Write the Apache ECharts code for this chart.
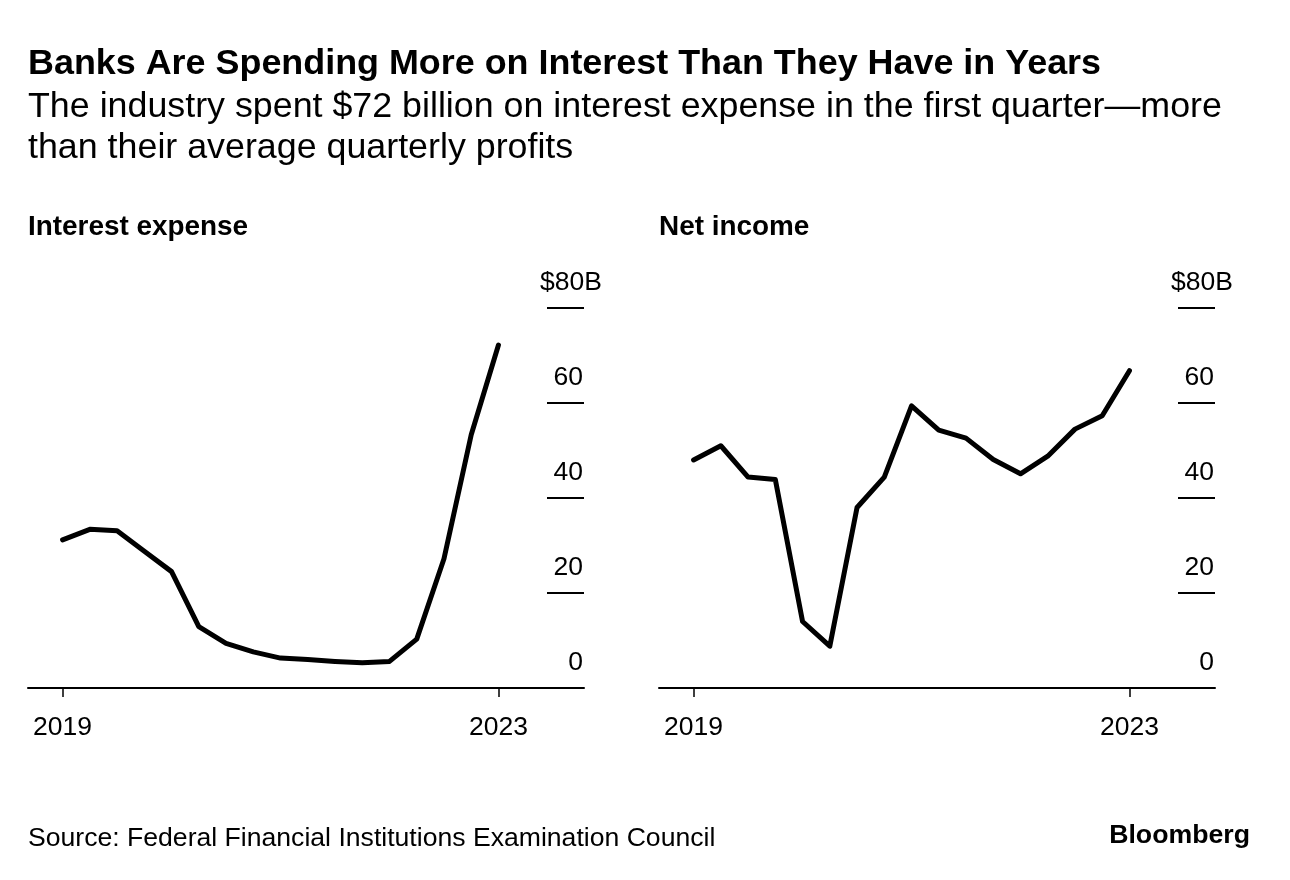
<!DOCTYPE html>
<html><head><meta charset="utf-8">
<script src="https://cdn.jsdelivr.net/npm/echarts@6/dist/echarts.min.js"></script>
<style>html,body{margin:0;padding:0;background:#fff}#c{width:1290px;height:880px}</style>
</head><body><div id="c"></div>
<script>
// Quarterly data, $ billions
const quarters = ['2019 Q1','2019 Q2','2019 Q3','2019 Q4','2020 Q1','2020 Q2','2020 Q3','2020 Q4',
  '2021 Q1','2021 Q2','2021 Q3','2021 Q4','2022 Q1','2022 Q2','2022 Q3','2022 Q4','2023 Q1'];
const interestExpense = [31.2, 33.4, 33.1, 28.8, 24.5, 12.9, 9.4, 7.6, 6.3, 6.0, 5.6, 5.3, 5.6, 10.3, 27.2, 53.3, 72.2];
const netIncome = [48.0, 51.0, 44.4, 43.9, 14.0, 8.8, 38.0, 44.4, 59.4, 54.3, 52.6, 48.1, 45.1, 48.8, 54.5, 57.3, 66.8];
const yTickValues = [0, 20, 40, 60, 80];
const yTickLines = [20, 40, 60, 80];
const xTickIndex = [0, 16];
const panelTitles = ['Interest expense', 'Net income'];
const mainTitle = 'Banks Are Spending More on Interest Than They Have in Years';
const subTitle = 'The industry spent $72 billion on interest expense in the first quarter\u2014more\nthan their average quarterly profits';
const sourceText = 'Source: Federal Financial Institutions Examination Council';
const brandText = 'Bloomberg';

const FONT = 'Liberation Sans';
const INK = '#000';
const AX_FS = 26.5;

function xAxisFor(gi) {
  return {
    type: 'value', gridIndex: gi, min: -1.27, max: 19.14,
    axisLine: { show: true, onZero: false, lineStyle: { color: INK, width: 2 } },
    axisTick: { show: true, customValues: xTickIndex, length: 9, lineStyle: { color: INK, width: 1.5 } },
    axisLabel: {
      show: true, customValues: xTickIndex, margin: 26,
      formatter: v => quarters[Math.round(v)].slice(0, 4),
      fontFamily: FONT, fontSize: AX_FS, color: INK
    },
    splitLine: { show: false }
  };
}
function yAxisFor(gi) {
  return {
    type: 'value', gridIndex: gi, position: 'right', min: 0, max: 80,
    axisLine: { show: false, onZero: false },
    axisTick: { show: true, inside: true, customValues: yTickLines, length: 37, lineStyle: { color: INK, width: 2 } },
    axisLabel: {
      show: true, inside: true, margin: 1, customValues: yTickValues,
      align: 'right', verticalAlign: 'bottom', padding: [0, 0, 12, 0],
      fontFamily: FONT, fontSize: AX_FS, color: INK, lineHeight: AX_FS,
      formatter: v => v === 80 ? '$80{u|B}' : String(v),
      rich: { u: { fontFamily: FONT, fontSize: AX_FS, color: INK, lineHeight: AX_FS, padding: [0, -19, 0, 0] } }
    },
    splitLine: { show: false }
  };
}
function seriesFor(gi, vals) {
  return {
    type: 'line', xAxisIndex: gi, yAxisIndex: gi,
    data: quarters.map((q, i) => [i, vals[i]]),
    showSymbol: false, silent: true,
    lineStyle: { color: INK, width: 5, cap: 'round', join: 'round' }
  };
}
function titleAt(text, pos, style) {
  return Object.assign({ text: text, padding: 0, textStyle: Object.assign({ fontFamily: FONT, color: INK }, style) }, pos);
}

const chart = echarts.init(document.getElementById('c'), null, { renderer: 'canvas' });
chart.setOption({
  animation: false,
  backgroundColor: '#fff',
  title: [
    titleAt(mainTitle, { left: 28, top: 46 }, { fontWeight: 'bold', fontSize: 35.9, lineHeight: 36 }),
    titleAt(subTitle, { left: 28, top: 86.5 }, { fontWeight: 'normal', fontSize: 35.8, lineHeight: 41 }),
    titleAt(panelTitles[0], { left: 28, top: 213 }, { fontWeight: 'bold', fontSize: 27.9, lineHeight: 28 }),
    titleAt(panelTitles[1], { left: 659, top: 213 }, { fontWeight: 'bold', fontSize: 27.9, lineHeight: 28 }),
    titleAt(sourceText, { left: 28, top: 825.5 }, { fontWeight: 'normal', fontSize: 26.6, lineHeight: 27 }),
    titleAt(brandText, { right: 40, top: 822.5 }, { fontWeight: 'bold', fontSize: 26.7, lineHeight: 27 })
  ],
  grid: [
    { left: 28, width: 556, top: 308, height: 380 },
    { left: 659, width: 556, top: 308, height: 380 }
  ],
  xAxis: [xAxisFor(0), xAxisFor(1)],
  yAxis: [yAxisFor(0), yAxisFor(1)],
  series: [seriesFor(0, interestExpense), seriesFor(1, netIncome)]
});
</script></body></html>
